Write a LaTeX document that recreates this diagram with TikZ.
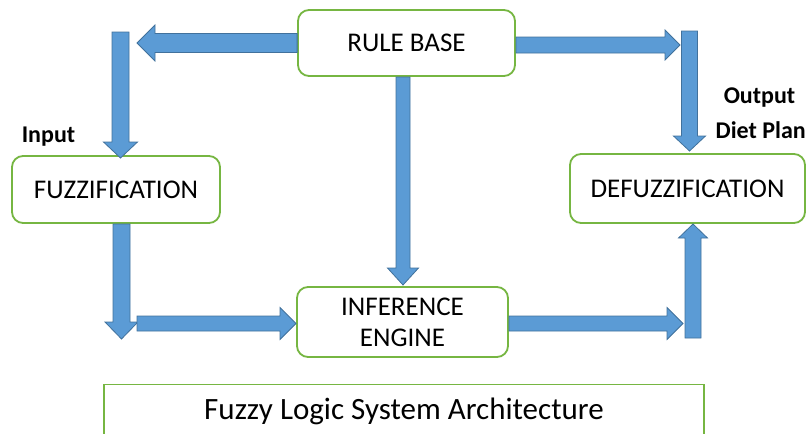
\documentclass[tikz,border=0pt]{standalone}
\usepackage{fontspec}
\setmainfont{Carlito}
\usetikzlibrary{calc}
\definecolor{boxgreen}{RGB}{118,182,66}
\definecolor{arrowblue}{RGB}{91,155,213}
\definecolor{arrowedge}{RGB}{65,113,156}
\tikzset{
  blockbox/.style={draw=boxgreen, line width=1.8pt, rounded corners=11pt, fill=white,
    inner sep=0pt, font=\fontsize{27}{31.5}\selectfont, align=center, text depth=0pt},
  titlebox/.style={draw=boxgreen, line width=1.4pt, inner sep=0pt,
    font=\fontsize{31}{36}\selectfont, text height=19.6pt, text depth=0pt},
  lbl/.style={font=\fontsize{24}{28}\selectfont\bfseries, inner sep=0pt,
    text height=15pt, text depth=0pt},
  barrowstyle/.style={fill=arrowblue, draw=arrowedge, line width=0.8pt, line join=miter},
}
% #1 from, #2 to, #3 shaft half width, #4 head half width, #5 head length
\newcommand\blockarrow[5]{%
  \coordinate (hb) at ($(#2)!#5pt!(#1)$);
  \draw[barrowstyle] ($(#1)!#3pt!90:(#2)$) -- ($(hb)!#3pt!90:(#2)$) -- ($(hb)!#4pt!90:(#2)$)
    -- (#2) -- ($(hb)!#4pt!-90:(#2)$) -- ($(hb)!#3pt!-90:(#2)$) -- ($(#1)!#3pt!-90:(#2)$) -- cycle;
}
\begin{document}
\begin{tikzpicture}[x=1pt,y=-1pt]
\useasboundingbox (0,0) rectangle (807,434);

% boxes
\node[blockbox, minimum width=217pt, minimum height=66pt] (rb) at (406.5,43) {RULE BASE};
\node[blockbox, minimum width=208pt, minimum height=67pt] (fz) at (116,189.5) {FUZZIFICATION};
\node[blockbox, minimum width=235pt, minimum height=69pt] (dfz) at (687.5,188.5) {DEFUZZIFICATION};
\node[blockbox, minimum width=211pt, minimum height=70pt] (ie) at (402.5,322) {INFERENCE\\ENGINE};
\node[titlebox, minimum width=600pt, minimum height=50pt] (title) at (404,409.5) {Fuzzy Logic System Architecture};

% labels
\node[lbl] (in) at (48.5,134.5) {Input};
\node[lbl] (out) at (759.5,95.5) {Output};
\node[lbl, anchor=east] (diet) at (806,130.5) {Diet Plan};

% arrow end points
\coordinate (a1e) at (137,43);
\coordinate (a2s) at (120.5,32);   \coordinate (a2e) at (120.5,158);
\coordinate (a3s) at (516,45);     \coordinate (a3e) at (680,45);
\coordinate (a4s) at (689.5,31);   \coordinate (a4e) at (689.5,151);
\coordinate (a5s) at (403,77);     \coordinate (a5e) at (403,285);
\coordinate (a6s) at (121.5,224);  \coordinate (a6e) at (121.5,339);
\coordinate (a7s) at (137,323.5);  \coordinate (a7e) at (296,323.5);
\coordinate (a8s) at (509,323.5);  \coordinate (a8e) at (683,323.5);
\coordinate (a9s) at (693,338);    \coordinate (a9e) at (693,224);

% block arrows
\blockarrow{rb.west}{a1e}{9.5}{18}{18}
\blockarrow{a2s}{a2e}{8.5}{17}{16}
\blockarrow{a3s}{a3e}{8}{15}{15}
\blockarrow{a4s}{a4e}{8}{16}{15}
\blockarrow{a5s}{a5e}{7}{15.5}{17}
\blockarrow{a6s}{a6e}{8.5}{16.5}{17}
\blockarrow{a7s}{a7e}{7.5}{16}{16}
\blockarrow{a8s}{a8e}{7.5}{16}{16}
\blockarrow{a9s}{a9e}{8}{14.5}{14}
\end{tikzpicture}
\end{document}
